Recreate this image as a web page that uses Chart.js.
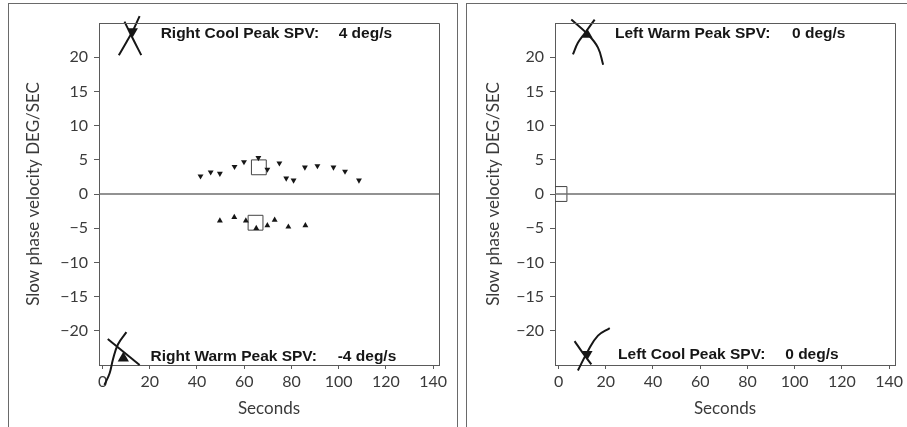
<!DOCTYPE html>
<html>
<head>
<meta charset="utf-8">
<script src="https://cdn.jsdelivr.net/npm/chart.js@4.4.1/dist/chart.umd.min.js"></script>
<style>
  html, body { margin: 0; padding: 0; background: #fff; }
  body { width: 907px; height: 427px; position: relative; overflow: hidden; }
  canvas { position: absolute; top: 0; }
  #c1 { left: 0; }
  #c2 { left: 460px; }
  .panel { position: absolute; border: 1px solid #6a6a6a; pointer-events: none; }
  #p1 { left: 8px; top: 3px; width: 448px; height: 440px; }
  #p2 { left: 466px; top: 3px; width: 460px; height: 440px; }
</style>
</head>
<body>
<canvas id="c1" width="460" height="427"></canvas>
<canvas id="c2" width="447" height="427"></canvas>
<div class="panel" id="p1"></div>
<div class="panel" id="p2"></div>
<script>
// ---- tick labels ----
const xTicks = [0, 20, 40, 60, 80, 100, 120, 140];
const yTicks = [-20, -15, -10, -5, 0, 5, 10, 15, 20];

// ---- left panel: right ear ----
const rightCoolSec = [41.5, 45.8, 49.7, 55.9, 59.9, 66.0, 69.8, 74.9, 77.8, 80.9, 85.7, 91.0, 97.8, 102.7, 108.6];
const rightCoolSPV = [2.6, 3.2, 3.0, 4.0, 4.7, 5.3, 3.6, 4.5, 2.3, 2.0, 3.9, 4.1, 3.9, 3.3, 2.0];
const rightWarmSec = [49.7, 55.8, 60.7, 65.1, 69.8, 72.9, 78.7, 85.9];
const rightWarmSPV = [-3.9, -3.4, -3.9, -5.0, -4.6, -3.8, -4.8, -4.6];
const rightPeakSec = [66.2, 64.8];
const rightPeakSPV = [3.9, -4.2];
const rightCoolMarkSec = [12.8];
const rightCoolMarkSPV = [23.8];
const rightWarmMarkSec = [8.8];
const rightWarmMarkSPV = [-24.0];

// ---- right panel: left ear ----
const leftPeakSec = [0.4];
const leftPeakSPV = [0];
const leftWarmMarkSec = [12.2];
const leftWarmMarkSPV = [23.3];
const leftCoolMarkSec = [12.2];
const leftCoolMarkSPV = [-23.4];

// ---- hand-drawn pen strokes (seconds / deg/s) ----
const strokeLTa_sec = [15.7, 12.9, 10.1, 6.9];
const strokeLTa_spv = [26.0, 23.9, 22.2, 20.3];
const strokeLTb_sec = [9.3, 12.7, 16.4];
const strokeLTb_spv = [25.2, 22.8, 20.3];
const strokeLBa_sec = [10.1, 6.5, 4.4, 3.0, 0.8];
const strokeLBa_spv = [-20.2, -22.0, -24.2, -26.2, -27.9];
const strokeLBb_sec = [2.2, 15.7];
const strokeLBb_spv = [-21.2, -25.0];
const strokeRTa_sec = [5.4, 12.5, 16.7, 18.9];
const strokeRTa_spv = [25.5, 23.3, 21.4, 18.9];
const strokeRTb_sec = [15.3, 11.1, 8.2, 6.1];
const strokeRTb_spv = [25.5, 23.5, 22.1, 20.4];
const strokeRBa_sec = [6.8, 10.2, 13.9];
const strokeRBa_spv = [-21.5, -23.2, -24.9];
const strokeRBb_sec = [8.2, 12.5, 16.7, 21.7];
const strokeRBb_spv = [-25.8, -22.9, -20.7, -19.6];

const xMin = -1.5, xMax = 142.5, yMin = -25, yMax = 25;

const pts = (xs, ys) => xs.map((x, i) => ({ x: x, y: ys[i] }));
const INK = '#161616';
const AX = '#5a5a5a';
const TICKFONT = { family: 'Lato, "Open Sans", sans-serif', size: 16 };
const TITLEFONT = { family: 'Lato, "Open Sans", sans-serif', size: 17 };
const NOTEFONT = 'bold 15.5px "Liberation Sans", Arial, sans-serif';

function markSet(data, style, rot, r) {
  return { type: 'scatter', data: data, pointStyle: style, rotation: rot, pointRadius: r,
           backgroundColor: INK, borderColor: INK, borderWidth: 0, clip: false };
}
function strokeSet(data) {
  return { type: 'scatter', data: data, showLine: true, borderColor: INK, borderWidth: 2,
           pointRadius: 0, tension: 0.4, clip: false, fill: false };
}
function zeroSet() {
  return { type: 'line', data: [{ x: xMin, y: 0 }, { x: xMax, y: 0 }], borderColor: '#6e6e6e',
           borderWidth: 1.3, pointRadius: 0, fill: false };
}
function peakSet(data) {
  return { type: 'scatter', data: data, pointStyle: 'rect', pointRadius: 10.5,
           backgroundColor: 'rgba(255,255,255,0)', borderColor: '#444', borderWidth: 1 };
}

const framePlugin = {
  id: 'frame',
  afterDatasetsDraw(chart) {
    const a = chart.chartArea, ctx = chart.ctx;
    ctx.save();
    ctx.strokeStyle = AX; ctx.lineWidth = 1;
    ctx.beginPath();
    ctx.moveTo(a.left, a.top + 0.5); ctx.lineTo(a.right + 0.5, a.top + 0.5);
    ctx.lineTo(a.right + 0.5, a.bottom);
    ctx.stroke();
    ctx.restore();
  }
};
const notePlugin = {
  id: 'notes',
  afterDatasetsDraw(chart, args, opts) {
    const ctx = chart.ctx, xs = chart.scales.x, ys = chart.scales.y;
    ctx.save();
    ctx.font = NOTEFONT; ctx.fillStyle = INK; ctx.textBaseline = 'middle'; ctx.textAlign = 'left';
    (opts.items || []).forEach(it => {
      ctx.fillText(it.text, xs.getPixelForValue(it.sec), ys.getPixelForValue(it.spv));
    });
    ctx.restore();
  }
};

function makeChart(id, yWidth, padRight, datasets, notes) {
  return new Chart(document.getElementById(id), {
    type: 'scatter',
    data: { datasets: datasets },
    plugins: [framePlugin, notePlugin],
    options: {
      responsive: false, animation: false, events: [],
      layout: { padding: { left: 0, top: 23, right: padRight, bottom: 0 } },
      plugins: { legend: { display: false }, tooltip: { enabled: false }, notes: { items: notes } },
      scales: {
        x: {
          type: 'linear', min: xMin, max: xMax,
          afterBuildTicks: s => { s.ticks = xTicks.map(v => ({ value: v })); },
          afterFit: s => { s.height = 62; },
          grid: { display: true, drawOnChartArea: false, drawTicks: true, tickLength: 4, color: AX },
          border: { display: true, color: AX, width: 1 },
          ticks: { color: '#3a3a3a', font: TICKFONT, padding: 3, maxRotation: 0, autoSkip: false },
          title: { display: true, text: 'Seconds', color: '#3a3a3a', font: TITLEFONT, padding: { top: 0, bottom: 8 } }
        },
        y: {
          type: 'linear', min: yMin, max: yMax,
          afterBuildTicks: s => { s.ticks = yTicks.map(v => ({ value: v })); },
          afterFit: s => { s.width = yWidth; },
          grid: { display: true, drawOnChartArea: false, drawTicks: true, tickLength: 5, color: AX },
          border: { display: true, color: AX, width: 1 },
          ticks: { color: '#3a3a3a', font: TICKFONT, padding: 6, autoSkip: false,
                   callback: v => String(v).replace('-', '\u2212') },
          title: { display: true, text: 'Slow phase velocity DEG/SEC', color: '#3a3a3a', font: TITLEFONT,
                   padding: { top: 23, bottom: 0 } }
        }
      }
    }
  });
}

makeChart('c1', 99, 21, [
  zeroSet(),
  markSet(pts(rightCoolSec, rightCoolSPV), 'triangle', 180, 3.4),
  markSet(pts(rightWarmSec, rightWarmSPV), 'triangle', 0, 3.4),
  peakSet(pts(rightPeakSec, rightPeakSPV)),
  markSet(pts(rightCoolMarkSec, rightCoolMarkSPV), 'triangle', 180, 6),
  markSet(pts(rightWarmMarkSec, rightWarmMarkSPV), 'triangle', 0, 6.5),
  strokeSet(pts(strokeLTa_sec, strokeLTa_spv)),
  strokeSet(pts(strokeLTb_sec, strokeLTb_spv)),
  strokeSet(pts(strokeLBa_sec, strokeLBa_spv)),
  strokeSet(pts(strokeLBb_sec, strokeLBb_spv))
], [
  { text: 'Right Cool Peak SPV:', sec: 24.6, spv: 23.5 },
  { text: '4 deg/s', sec: 100, spv: 23.5 },
  { text: 'Right Warm Peak SPV:', sec: 20.3, spv: -23.8 },
  { text: '-4 deg/s', sec: 99.6, spv: -23.8 }
]);

makeChart('c2', 95, 12, [
  zeroSet(),
  peakSet(pts(leftPeakSec, leftPeakSPV)),
  markSet(pts(leftWarmMarkSec, leftWarmMarkSPV), 'triangle', 0, 6),
  markSet(pts(leftCoolMarkSec, leftCoolMarkSPV), 'triangle', 180, 6),
  strokeSet(pts(strokeRTa_sec, strokeRTa_spv)),
  strokeSet(pts(strokeRTb_sec, strokeRTb_spv)),
  strokeSet(pts(strokeRBa_sec, strokeRBa_spv)),
  strokeSet(pts(strokeRBb_sec, strokeRBb_spv))
], [
  { text: 'Left Warm Peak SPV:', sec: 23.9, spv: 23.4 },
  { text: '0 deg/s', sec: 98.9, spv: 23.4 },
  { text: 'Left Cool Peak SPV:', sec: 25.2, spv: -23.5 },
  { text: '0 deg/s', sec: 96, spv: -23.5 }
]);
</script>
</body>
</html>
